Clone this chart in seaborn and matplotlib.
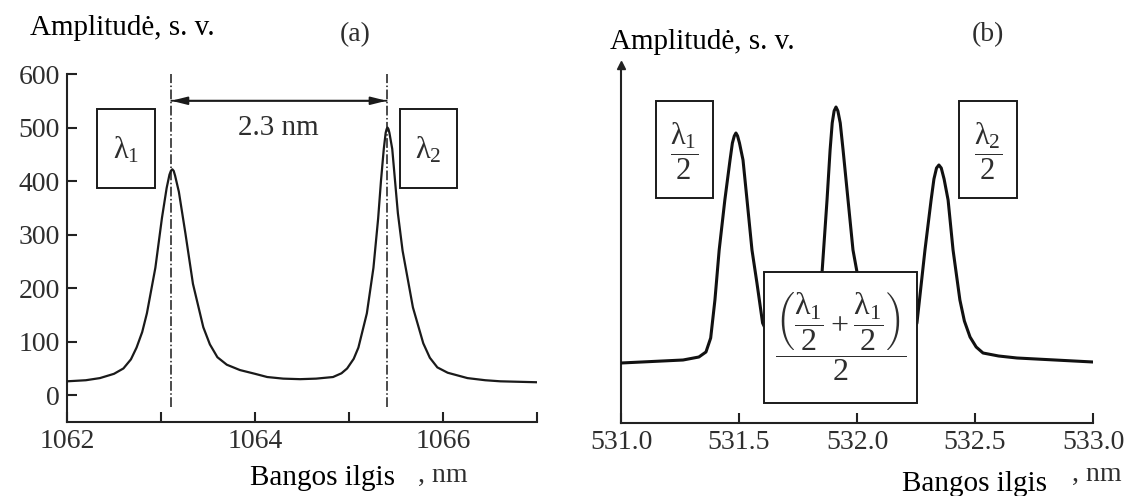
import matplotlib
matplotlib.use("Agg")
import matplotlib.pyplot as plt
import seaborn as sns
import pandas as pd
from matplotlib.patches import Rectangle

# ---- data ----
# panel (a): spectrum near 1064 nm
wl_a = [1062.00, 1062.20, 1062.35, 1062.50, 1062.60, 1062.68, 1062.74, 1062.80,
        1062.85, 1062.94, 1063.01, 1063.06, 1063.09, 1063.105, 1063.12, 1063.135,
        1063.15, 1063.19, 1063.26, 1063.34, 1063.45, 1063.52, 1063.60, 1063.70,
        1063.84, 1064.00, 1064.13, 1064.30, 1064.48, 1064.65, 1064.83, 1064.92,
        1064.98, 1065.05, 1065.10, 1065.19, 1065.26, 1065.31, 1065.34, 1065.37,
        1065.39, 1065.40, 1065.41, 1065.42, 1065.43, 1065.46, 1065.49, 1065.52,
        1065.57, 1065.68, 1065.79, 1065.86, 1065.94, 1066.05, 1066.26, 1066.45,
        1066.61, 1067.05]
amp_a = [26, 28, 32, 40, 50, 67, 89, 118,
         153, 238, 331, 387, 412, 419, 422, 419,
         410, 380, 302, 208, 127, 95, 71, 57,
         47, 40, 34, 31, 30, 31, 34, 41,
         50, 68, 89, 153, 238, 330, 400, 460,
         490, 497, 500, 497, 490, 460, 400, 340,
         270, 164, 97, 70, 52, 42, 32, 28,
         26, 24]
peaks_a = [1063.11, 1065.40]
xticks_a = [1062, 1063, 1064, 1065, 1066, 1067]
xlabels_a = ["1062", "", "1064", "", "1066", ""]
yticks_a = [0, 100, 200, 300, 400, 500, 600]

# panel (b): second-harmonic spectrum near 532 nm (arbitrary units)
wl_b = [531.000, 531.263, 531.330, 531.360, 531.380, 531.398, 531.416, 531.440,
        531.462, 531.472, 531.480, 531.487, 531.494, 531.502, 531.517, 531.534,
        531.555, 531.576, 531.600, 531.650, 531.700, 531.760, 531.810, 531.852,
        531.873, 531.886, 531.895, 531.903, 531.911, 531.919, 531.929, 531.941,
        531.962, 531.983, 532.000, 532.040, 532.100, 532.160, 532.220, 532.254,
        532.288, 532.314, 532.326, 532.337, 532.347, 532.357, 532.369, 532.386,
        532.407, 532.436, 532.455, 532.479, 532.505, 532.534, 532.600, 532.678,
        533.000]
amp_b = [60, 63, 66, 71, 85, 123, 173, 223,
         263, 280, 287, 290, 287, 280, 263, 223,
         173, 140, 100, 75, 68, 72, 100, 151,
         223, 273, 300, 312, 316, 312, 300, 273,
         223, 173, 151, 100, 72, 70, 80, 100,
         173, 223, 244, 255, 258, 255, 244, 223,
         173, 123, 102, 86, 76, 70, 67, 65,
         61]
xticks_b = [531.0, 531.5, 532.0, 532.5, 533.0]
xlabels_b = ["531.0", "531.5", "532.0", "532.5", "533.0"]

sns.set_theme(style="white")
plt.rcParams["font.family"] = ["Liberation Serif", "DejaVu Serif"]
plt.rcParams["mathtext.fontset"] = "custom"
plt.rcParams["mathtext.rm"] = "Liberation Serif"
plt.rcParams["mathtext.it"] = "Liberation Serif"
plt.rcParams["mathtext.bf"] = "Liberation Serif:bold"

W, H = 1130, 496
fig = plt.figure(figsize=(W / 100, H / 100), dpi=100)
axa = fig.add_axes([67 / W, (H - 422) / H, 470 / W, 348 / H])
axb = fig.add_axes([621 / W, (H - 423) / H, 472 / W, 358 / H])

tick_col = "#2e2e2e"
line_col = "#1a1a1a"
for ax in (axa, axb):
    ax.set_facecolor("white")
    for s in ("top", "right"):
        ax.spines[s].set_visible(False)
    for s in ("left", "bottom"):
        ax.spines[s].set_color("#222222")
        ax.spines[s].set_linewidth(1.5)
    ax.tick_params(direction="in", length=7, width=1.5, color="#222222",
                   labelsize=20, labelcolor=tick_col, pad=5,
                   bottom=True, left=True)

# ---- panel (a) ----
df_a = pd.DataFrame({"wl": wl_a, "amp": amp_a})
sns.lineplot(data=df_a, x="wl", y="amp", ax=axa, color=line_col, lw=1.6,
             estimator=None, sort=False, zorder=3)
axa.lines[-1].set_solid_joinstyle("round")
axa.set_xlim(1062, 1067)
axa.set_ylim(-50, 600)
axa.set_xticks(xticks_a)
axa.set_xticklabels(xlabels_a)
axa.set_yticks(yticks_a)
axa.set_xlabel("")
axa.set_ylabel("")
for p in peaks_a:
    axa.plot([p, p], [-22, 600], color=line_col, lw=1.1, ls="-.", zorder=2,
             clip_on=False)
for a, b in ((peaks_a[0], peaks_a[1]), (peaks_a[1], peaks_a[0])):
    axa.annotate("", xy=(b, 550), xytext=(a, 550),
                 arrowprops=dict(arrowstyle="-|>,head_length=0.8,head_width=0.2",
                                 color=line_col, lw=1.3, shrinkA=0, shrinkB=0))
axa.text(1064.245, 500, "2.3 nm", ha="center", va="center",
         fontsize=21, color=tick_col)
axa.add_patch(Rectangle((1062.32, 387), 0.62, 148, fc="white",
                        ec=line_col, lw=1.4, zorder=4))
axa.text(1062.63, 458, r"$\lambda_1$", ha="center", va="center", fontsize=22,
         color=tick_col, zorder=5)
axa.add_patch(Rectangle((1065.54, 387), 0.61, 148, fc="white",
                        ec=line_col, lw=1.4, zorder=4))
axa.text(1065.845, 458, r"$\lambda_2$", ha="center", va="center", fontsize=22,
         color=tick_col, zorder=5)

# ---- panel (b) ----
df_b = pd.DataFrame({"wl": wl_b, "amp": amp_b})
sns.lineplot(data=df_b, x="wl", y="amp", ax=axb, color="#111111", lw=2.2,
             estimator=None, sort=False, zorder=3)
axb.lines[-1].set_solid_joinstyle("round")
axb.set_xlim(531.0, 533.0)
axb.set_ylim(0, 358)
axb.set_xticks(xticks_b)
axb.set_xticklabels(xlabels_b)
axb.set_yticks([])
axb.set_xlabel("")
axb.set_ylabel("")
axb.plot(0, 1, marker="^", color="#222222", ms=6, transform=axb.transAxes,
         clip_on=False)
axb.add_patch(Rectangle((531.148, 225), 0.242, 97, fc="white", ec=line_col,
                        lw=1.4, zorder=4))
axb.text(531.269, 272, r"$\dfrac{\lambda_1}{2}$", ha="center", va="center",
         fontsize=22, color=tick_col, zorder=5)
axb.add_patch(Rectangle((532.432, 225), 0.246, 97, fc="white", ec=line_col,
                        lw=1.4, zorder=4))
axb.text(532.555, 272, r"$\dfrac{\lambda_2}{2}$", ha="center", va="center",
         fontsize=22, color=tick_col, zorder=5)
axb.add_patch(Rectangle((531.606, 20), 0.648, 131, fc="white", ec=line_col,
                        lw=1.4, zorder=4))
axb.text(531.93, 86,
         r"$\dfrac{\left(\dfrac{\lambda_1}{2}+\dfrac{\lambda_1}{2}\right)}{2}$",
         ha="center", va="center", fontsize=23, color=tick_col, zorder=5)

# ---- figure-level texts ----
def ftext(x, y, s, **kw):
    fig.text(x / W, 1 - y / H, s, va="center", **kw)

ftext(30, 28, "Amplitudė, s. v.", ha="left", fontsize=21, color="black")
ftext(610, 42, "Amplitudė, s. v.", ha="left", fontsize=21, color="black")
ftext(355, 35, "(a)", ha="center", fontsize=20, color=tick_col)
ftext(988, 35, "(b)", ha="center", fontsize=20, color=tick_col)
ftext(250, 478, "Bangos ilgis", ha="left", fontsize=21, color="black")
ftext(418, 475, ", nm", ha="left", fontsize=20, color=tick_col)
ftext(902, 484, "Bangos ilgis", ha="left", fontsize=21, color="black")
ftext(1072, 474, ", nm", ha="left", fontsize=20, color=tick_col)

fig.savefig("out.png", dpi=100, facecolor="white")
